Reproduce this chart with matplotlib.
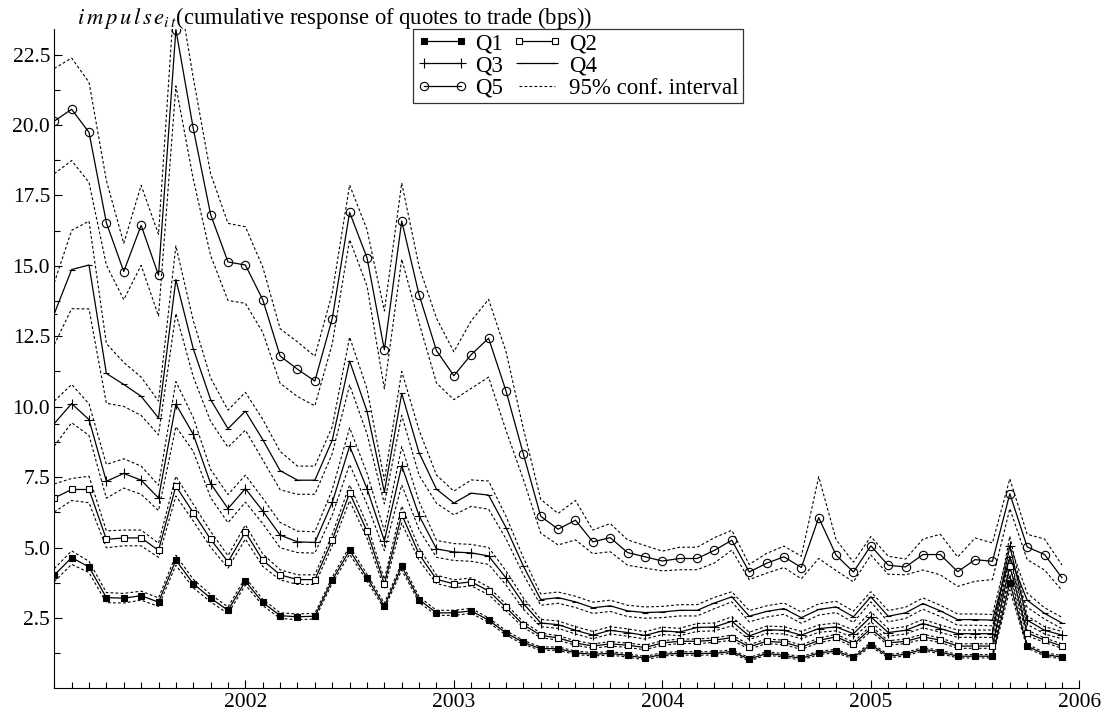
import numpy as np
import matplotlib
matplotlib.use('Agg')
import matplotlib.pyplot as plt
from matplotlib.ticker import MultipleLocator, FixedLocator, FormatStrFormatter

plt.rcParams['font.family'] = ['Liberation Serif', 'DejaVu Serif']
plt.rcParams['mathtext.fontset'] = 'stix'

# monthly observations, Feb 2001 .. Dec 2005 (decimal years)
months = np.arange(1, 60)
years = 2001 + months / 12.0

q1 = [4.02, 4.64, 4.31, 3.22, 3.20, 3.29, 3.06, 4.55, 3.72, 3.20,
      2.77, 3.80, 3.05, 2.58, 2.54, 2.56, 3.84, 4.90, 3.93, 2.92,
      4.33, 3.15, 2.68, 2.68, 2.75, 2.42, 1.97, 1.63, 1.41, 1.41,
      1.26, 1.21, 1.24, 1.17, 1.07, 1.21, 1.24, 1.24, 1.24, 1.31,
      1.03, 1.24, 1.17, 1.06, 1.26, 1.32, 1.10, 1.55, 1.14, 1.21,
      1.39, 1.29, 1.14, 1.14, 1.14, 3.75, 1.50, 1.21, 1.10]
q2 = [6.76, 7.06, 7.06, 5.29, 5.34, 5.34, 4.90, 7.18, 6.24, 5.29,
      4.49, 5.55, 4.55, 4.03, 3.86, 3.86, 5.26, 6.94, 5.58, 3.70,
      6.17, 4.76, 3.87, 3.71, 3.78, 3.46, 2.87, 2.26, 1.88, 1.79,
      1.61, 1.50, 1.58, 1.53, 1.45, 1.61, 1.67, 1.67, 1.71, 1.80,
      1.47, 1.67, 1.63, 1.46, 1.70, 1.83, 1.56, 2.12, 1.61, 1.67,
      1.83, 1.71, 1.50, 1.50, 1.50, 4.35, 1.97, 1.71, 1.50]
q3 = [9.40, 10.11, 9.54, 7.35, 7.63, 7.39, 6.76, 10.09, 9.02, 7.27,
      6.38, 7.09, 6.30, 5.44, 5.20, 5.18, 6.60, 8.60, 7.09, 5.24,
      7.90, 6.13, 4.95, 4.84, 4.81, 4.70, 3.92, 3.01, 2.32, 2.26,
      2.06, 1.89, 2.06, 1.98, 1.88, 2.04, 2.00, 2.16, 2.18, 2.38,
      1.86, 2.08, 2.06, 1.89, 2.12, 2.18, 1.94, 2.54, 1.98, 2.06,
      2.30, 2.12, 1.94, 1.94, 1.94, 5.05, 2.42, 2.06, 1.89]
q4 = [13.30, 14.87, 15.03, 11.18, 10.79, 10.37, 9.60, 14.51, 12.06, 10.25,
      9.22, 9.84, 8.83, 7.73, 7.39, 7.39, 8.81, 11.62, 9.84, 6.97,
      10.47, 8.36, 7.07, 6.58, 6.93, 6.86, 5.71, 4.34, 3.15, 3.22,
      3.07, 2.86, 2.93, 2.75, 2.69, 2.71, 2.77, 2.77, 3.03, 3.25,
      2.56, 2.73, 2.83, 2.51, 2.80, 2.89, 2.54, 3.25, 2.56, 2.68,
      3.01, 2.75, 2.44, 2.44, 2.42, 4.65, 3.13, 2.66, 2.32]
q5 = [20.14, 20.56, 19.74, 16.53, 14.80, 16.44, 14.67, 23.39, 19.88, 16.82,
      15.14, 15.03, 13.80, 11.80, 11.33, 10.91, 13.13, 16.90, 15.29, 12.02,
      16.59, 13.97, 11.99, 11.10, 11.85, 12.43, 10.56, 8.32, 6.11, 5.65,
      5.97, 5.20, 5.35, 4.82, 4.67, 4.52, 4.61, 4.61, 4.90, 5.26,
      4.13, 4.44, 4.67, 4.29, 6.06, 4.73, 4.13, 5.06, 4.37, 4.31,
      4.75, 4.75, 4.14, 4.57, 4.51, 6.91, 5.02, 4.75, 3.93]

# half width of the 95% confidence band
hw1 = [0.23, 0.24, 0.20, 0.18, 0.17, 0.16, 0.15, 0.18, 0.15, 0.13,
       0.12, 0.13, 0.11, 0.10, 0.10, 0.10, 0.11, 0.14, 0.12, 0.10,
       0.13, 0.10, 0.09, 0.09, 0.09, 0.08, 0.08, 0.07, 0.06, 0.06,
       0.06, 0.06, 0.06, 0.06, 0.06, 0.06, 0.06, 0.06, 0.06, 0.06,
       0.06, 0.06, 0.06, 0.06, 0.06, 0.06, 0.06, 0.07, 0.06, 0.06,
       0.06, 0.06, 0.06, 0.06, 0.06, 0.25, 0.07, 0.06, 0.06]
hw2 = [0.50, 0.39, 0.47, 0.30, 0.28, 0.28, 0.25, 0.35, 0.30, 0.28,
       0.22, 0.25, 0.22, 0.18, 0.17, 0.17, 0.20, 0.28, 0.25, 0.17,
       0.30, 0.22, 0.15, 0.14, 0.14, 0.14, 0.12, 0.10, 0.08, 0.08,
       0.08, 0.08, 0.08, 0.08, 0.08, 0.08, 0.08, 0.08, 0.08, 0.09,
       0.08, 0.08, 0.08, 0.08, 0.08, 0.09, 0.08, 0.10, 0.08, 0.08,
       0.09, 0.08, 0.08, 0.08, 0.08, 0.30, 0.10, 0.08, 0.08]
hw3 = [0.80, 0.68, 0.56, 0.60, 0.52, 0.50, 0.45, 0.80, 0.60, 0.50,
       0.50, 0.48, 0.45, 0.45, 0.38, 0.38, 0.45, 0.65, 0.55, 0.35,
       0.68, 0.50, 0.30, 0.30, 0.30, 0.30, 0.25, 0.20, 0.13, 0.13,
       0.13, 0.13, 0.13, 0.13, 0.13, 0.13, 0.13, 0.14, 0.14, 0.16,
       0.13, 0.13, 0.13, 0.13, 0.13, 0.14, 0.13, 0.18, 0.13, 0.13,
       0.15, 0.13, 0.13, 0.13, 0.13, 0.35, 0.15, 0.13, 0.13]
hw4 = [1.10, 1.39, 1.56, 1.06, 0.78, 0.68, 0.60, 1.20, 1.00, 0.77,
       0.66, 0.67, 0.72, 0.68, 0.50, 0.50, 0.48, 0.85, 0.80, 0.42,
       0.78, 0.80, 0.50, 0.42, 0.47, 0.50, 0.40, 0.30, 0.20, 0.20,
       0.20, 0.20, 0.20, 0.20, 0.20, 0.20, 0.20, 0.20, 0.20, 0.18,
       0.20, 0.20, 0.20, 0.20, 0.20, 0.20, 0.20, 0.18, 0.20, 0.20,
       0.20, 0.20, 0.20, 0.20, 0.20, 0.45, 0.25, 0.20, 0.20]
hw5 = [1.87, 1.82, 1.78, 1.50, 1.00, 1.42, 1.45, 2.00, 1.80, 1.45,
       1.37, 1.36, 1.16, 0.97, 0.97, 0.88, 0.90, 0.97, 1.00, 1.38,
       1.35, 1.00, 1.15, 0.85, 1.20, 1.38, 1.40, 0.90, 0.60, 0.56,
       0.70, 0.42, 0.50, 0.45, 0.40, 0.35, 0.40, 0.40, 0.45, 0.35,
       0.27, 0.35, 0.38, 0.40, 1.45, 0.55, 0.35, 0.33, 0.32, 0.28,
       0.55, 0.72, 0.52, 0.77, 0.65, 0.53, 0.45, 0.55, 0.45]

labels = ['Q1', 'Q2', 'Q3', 'Q4', 'Q5']
series = [q1, q2, q3, q4, q5]
bands = [hw1, hw2, hw3, hw4, hw5]
styles = [dict(marker='s', ms=5, mfc='black'),
          dict(marker='s', ms=5, mfc='white'),
          dict(marker='+', ms=7),
          dict(marker='_', ms=5),
          dict(marker='o', ms=6, mfc='none')]

fig = plt.figure(figsize=(11.12, 7.2), dpi=100)
ax = fig.add_axes([0.0488, 0.044, 0.9218, 0.9153])

dash = (0, (2.5, 2))
ci_line = None
for s, hw in zip(series, bands):
    s = np.array(s)
    hw = np.array(hw)
    ci_line, = ax.plot(years, s + hw, color='black', lw=0.8, ls=dash)
    ax.plot(years, s - hw, color='black', lw=0.8, ls=dash)

handles = {}
for lab, s, st in zip(labels, series, styles):
    h, = ax.plot(years, s, color='black', lw=0.9, mec='black', mew=0.8, label=lab, **st)
    handles[lab] = h

ax.set_xlim(2001 + 1 / 12.0, 2006)
ax.set_ylim(0, 23.4)
ax.spines['top'].set_visible(False)
ax.spines['right'].set_visible(False)

ax.xaxis.set_major_locator(FixedLocator([2002, 2003, 2004, 2005, 2006]))
ax.xaxis.set_major_formatter(FormatStrFormatter('%d'))
ax.xaxis.set_minor_locator(MultipleLocator(1 / 12.0))
ax.yaxis.set_major_locator(FixedLocator([2.5, 5, 7.5, 10, 12.5, 15, 17.5, 20, 22.5]))
ax.yaxis.set_major_formatter(FormatStrFormatter('%.1f'))
ax.yaxis.set_minor_locator(FixedLocator([1.25, 3.75, 6.25, 8.75, 11.25, 13.75, 16.25, 18.75, 21.25]))
ax.tick_params(which='both', direction='in', labelsize=15.5)
ax.tick_params(which='major', length=6, width=0.8)
ax.tick_params(which='minor', length=4, width=0.8)
ax.tick_params(axis='y', pad=3)

fig.text(0.069, 1 - 24 / 720.0,
         r'$i\,m\,p\,u\,l\,s\,e_{i\,t}$(cumulative response of quotes to trade (bps))',
         fontsize=16.3, va='baseline', ha='left')

ci_line.set_label('95% conf. interval')
order = ['Q1', 'Q3', 'Q5', 'Q2', 'Q4']
hl = [handles[k] for k in order] + [ci_line]
ll = order + ['95% conf. interval']
leg = fig.legend(hl, ll, ncol=2, loc='upper left',
                 bbox_to_anchor=(413 / 1112.0, 1 - 28.7 / 720.0),
                 bbox_transform=fig.transFigure,
                 fontsize=16.5, frameon=True, fancybox=False, numpoints=2,
                 handlelength=2.2, handletextpad=0.3, columnspacing=0.4,
                 labelspacing=0.05, borderpad=0.2, borderaxespad=0)
leg.get_frame().set_edgecolor('black')
leg.get_frame().set_linewidth(0.9)

fig.savefig('out.png', dpi=100)
